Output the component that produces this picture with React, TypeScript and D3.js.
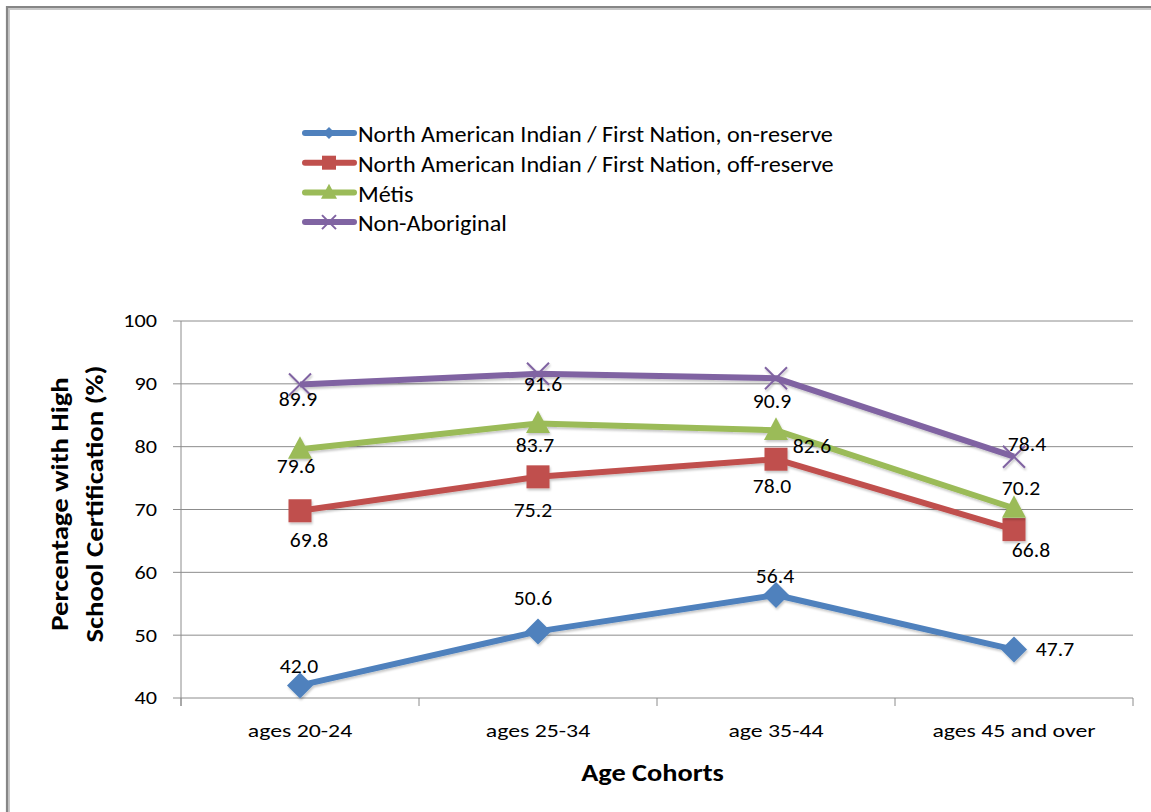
import React from "react";
import * as d3 from "d3";

// Age cohorts along the x axis
const categories = ["ages 20-24", "ages 25-34", "age 35-44", "ages 45 and over"];

// Percentage with high school certification, per group
const onReserve = [42.0, 50.6, 56.4, 47.7];
const offReserve = [69.8, 75.2, 78.0, 66.8];
const metis = [79.6, 83.7, 82.6, 70.2];
const nonAboriginal = [89.9, 91.6, 90.9, 78.4];

const seriesNames = [
  "North American Indian / First Nation, on-reserve",
  "North American Indian / First Nation, off-reserve",
  "Métis",
  "Non-Aboriginal",
];

const yTicks = [40, 50, 60, 70, 80, 90, 100];

type Marker = "diamond" | "square" | "triangle" | "x";

// label placement (pixel offsets from each point) for the value labels
const onReserveLabelOffsets: [number, number][] = [[-1, -20], [-5, -34], [-1, -19], [41, -1]];
const offReserveLabelOffsets: [number, number][] = [[9, 29], [-5, 33], [-4, 26], [17, 20]];
const metisLabelOffsets: [number, number][] = [[-4, 16], [-3, 21], [36, 15], [7, -21]];
const nonAboriginalLabelOffsets: [number, number][] = [[-2, 14], [5, 10], [-4, 22], [13, -13]];

const series: { name: string; values: number[]; color: string; marker: Marker; offsets: [number, number][] }[] = [
  { name: seriesNames[0], values: onReserve, color: "#4F81BD", marker: "diamond", offsets: onReserveLabelOffsets },
  { name: seriesNames[1], values: offReserve, color: "#C0504D", marker: "square", offsets: offReserveLabelOffsets },
  { name: seriesNames[2], values: metis, color: "#9BBB59", marker: "triangle", offsets: metisLabelOffsets },
  { name: seriesNames[3], values: nonAboriginal, color: "#8064A2", marker: "x", offsets: nonAboriginalLabelOffsets },
];

const FONT = "Carlito, Calibri, Lato, 'Open Sans', sans-serif";

function markerShape(kind: Marker, cx: number, cy: number, s: number, color: string, key?: string) {
  switch (kind) {
    case "diamond":
      return <path key={key} d={`M${cx},${cy - s}L${cx + s},${cy}L${cx},${cy + s}L${cx - s},${cy}Z`} fill={color} />;
    case "square":
      return <rect key={key} x={cx - s} y={cy - s} width={2 * s} height={2 * s} fill={color} />;
    case "triangle":
      return (
        <path key={key} d={`M${cx},${cy - s * 1.08}L${cx + s},${cy + s * 0.8}L${cx - s},${cy + s * 0.8}Z`} fill={color} />
      );
    case "x":
      return (
        <path
          key={key}
          d={`M${cx - s},${cy - s}L${cx + s},${cy + s}M${cx - s},${cy + s}L${cx + s},${cy - s}`}
          stroke={color}
          strokeWidth={2}
          fill="none"
        />
      );
  }
}

// text stretched horizontally about its anchor point
function Label(props: {
  x: number;
  y: number;
  k?: number;
  size: number;
  anchor?: string;
  bold?: boolean;
  children: React.ReactNode;
}) {
  const { x, y, k = 1, size, anchor = "middle", bold = false, children } = props;
  return (
    <text
      transform={`translate(${x},${y}) scale(${k},1)`}
      dy="0.35em"
      textAnchor={anchor}
      fontFamily={FONT}
      fontSize={size}
      fontWeight={bold ? "bold" : "normal"}
      fill="#000"
    >
      {children}
    </text>
  );
}

export default function App() {
  const width = 1151;
  const height = 812;
  const plot = { left: 181, right: 1133, top: 321, bottom: 698 };

  const x = d3.scaleBand<string>().domain(categories).range([plot.left, plot.right]);
  const y = d3.scaleLinear().domain([40, 100]).range([plot.bottom, plot.top]);
  const cx = (c: string) => (x(c) ?? 0) + x.bandwidth() / 2;

  const line = d3
    .line<number>()
    .x((_, i) => cx(categories[i]))
    .y((v) => y(v));

  const markerSize: Record<Marker, number> = { diamond: 13, square: 11.5, triangle: 12, x: 11 };
  const legendMarkerSize: Record<Marker, number> = { diamond: 6, square: 7, triangle: 8, x: 7 };

  const boundaries = [...categories.map((c) => x(c) ?? 0), plot.right];

  return (
    <div style={{ position: "absolute", left: 0, top: 0 }}>
      <svg width={width} height={height} style={{ display: "block", background: "#fff" }}>
        <defs>
          <filter id="shadow" x="-10%" y="-10%" width="120%" height="130%">
            <feDropShadow dx="1" dy="2" stdDeviation="1.2" floodColor="#000" floodOpacity="0.22" />
          </filter>
        </defs>

        {/* outer frame */}
        <path d={`M8,${height + 5}V8H${width + 5}`} fill="none" stroke="#c8c8c8" strokeWidth={4} />
        <path d={`M7,${height + 5}V7H${width + 5}`} fill="none" stroke="#868686" strokeWidth={2.2} />

        {/* gridlines */}
        {yTicks.map((t) => (
          <line key={t} x1={plot.left - 8} x2={plot.right} y1={y(t)} y2={y(t)} stroke="#8c8c8c" strokeWidth={1} />
        ))}
        {/* y axis */}
        <line x1={plot.left} x2={plot.left} y1={plot.top} y2={plot.bottom + 8} stroke="#8c8c8c" strokeWidth={1} />
        {/* x tick marks */}
        {boundaries.map((b, i) => (
          <line key={i} x1={b} x2={b} y1={plot.bottom} y2={plot.bottom + 8} stroke="#8c8c8c" strokeWidth={1} />
        ))}

        {/* y tick labels */}
        {yTicks.map((t) => (
          <Label key={t} x={157} y={y(t)} k={1.2} size={18.5} anchor="end">
            {t}
          </Label>
        ))}

        {/* x tick labels */}
        {categories.map((c) => (
          <Label key={c} x={cx(c)} y={731} k={1.36} size={17.5}>
            {c}
          </Label>
        ))}

        {/* axis titles */}
        <Label x={652.5} y={773} k={1.18} size={24} bold>
          Age Cohorts
        </Label>
        <g transform="translate(76.5,504) rotate(-90)">
          <Label x={0} y={-17.5} k={1.15} size={25} bold>
            Percentage with High
          </Label>
          <Label x={0} y={17.5} k={1.15} size={25} bold>
            School Certification (%)
          </Label>
        </g>

        {/* series lines and markers */}
        {series.map((s) => (
          <g key={s.name} filter="url(#shadow)">
            <path d={line(s.values) ?? ""} fill="none" stroke={s.color} strokeWidth={6} strokeLinejoin="round" />
            {s.values.map((v, i) => markerShape(s.marker, cx(categories[i]), y(v), markerSize[s.marker], s.color, `${i}`))}
          </g>
        ))}

        {/* value labels */}
        {series.map((s) =>
          s.values.map((v, i) => (
            <Label key={`${s.name}-${i}`} x={cx(categories[i]) + s.offsets[i][0]} y={y(v) + s.offsets[i][1]} k={1.03} size={21}>
              {v.toFixed(1)}
            </Label>
          ))
        )}

        {/* legend */}
        {series.map((s, i) => {
          const ly = 133 + i * 29.7;
          return (
            <g key={s.name}>
              <line x1={305} x2={354} y1={ly} y2={ly} stroke={s.color} strokeWidth={6} strokeLinecap="round" />
              {markerShape(s.marker, 329, ly, legendMarkerSize[s.marker], s.color)}
              <Label x={358} y={ly + 1} k={1.035} size={23.4} anchor="start">
                {s.name}
              </Label>
            </g>
          );
        })}
      </svg>
    </div>
  );
}
